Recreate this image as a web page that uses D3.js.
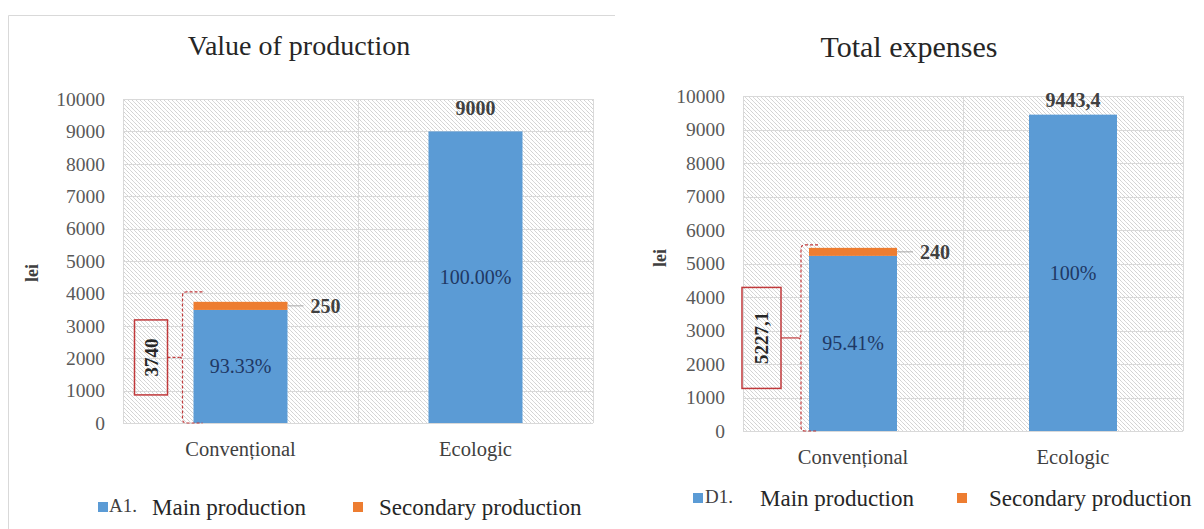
<!DOCTYPE html>
<html>
<head>
<meta charset="utf-8">
<script src="https://cdn.jsdelivr.net/npm/d3@7"></script>
<style>
  body { margin: 0; background: #fff; }
  svg { display: block; }
  svg text { font-family: "Liberation Serif", "Times New Roman", serif !important; }
</style>
</head>
<body>
<svg id="chart" width="1204" height="529"></svg>
<script>
// data
const categories = ["Convențional", "Ecologic"];

const productionMain = [3490, 9000];
const productionSecondary = [250, 0];
const productionPercent = ["93.33%", "100.00%"];
const productionTotal = ["3740", "9000"];

const expensesMain = [5227.1, 9443.4];
const expensesSecondary = [240, 0];
const expensesPercent = ["95.41%", "100%"];
const expensesTotal = ["5227,1", "9443,4"];

const yTicks = [0, 1000, 2000, 3000, 4000, 5000, 6000, 7000, 8000, 9000, 10000];
const seriesNames = ["Main production", "Secondary production"];

const blue = "#5b9bd5";
const orange = "#ed7d31";
const red = "#c0393b";
const serif = '"Liberation Serif", "Times New Roman", serif';

const svg = d3.select("#chart");

// diagonal hatch behind the plot
svg
  .append("defs")
  .append("pattern")
  .attr("id", "hatch")
  .attr("patternUnits", "userSpaceOnUse")
  .attr("width", 4)
  .attr("height", 4)
  .append("path")
  .attr("d", "M-1,-1 L1,1 M0,0 L4,4 M3,3 L5,5")
  .attr("stroke", "#cfcfcf")
  .attr("stroke-width", 0.8);

// frame round the left chart
svg
  .append("path")
  .attr("d", "M8.5,529 V15.5 H615")
  .attr("fill", "none")
  .attr("stroke", "#d9d9d9");

const charts = [
  {
    title: "Value of production",
    titleX: 299, titleY: 55, titleSize: 28,
    left: 123, right: 593, top: 99, bottom: 423,
    main: productionMain, secondary: productionSecondary,
    percent: productionPercent, total: productionTotal,
    leiX: 32, leiY: 273,
    catPad: 18,
    topLabelGap: 16,
    box: { w: 33, h: 75, gap: 15, dashedLink: true },
    bracketOffset: 11,
    bracketTopGap: 10,
    legendPrefix: "A1.",
    legendY: 507,
    legendX: [98, 109, 152, 353, 379],
  },
  {
    title: "Total expenses",
    titleX: 909, titleY: 57, titleSize: 30,
    left: 743, right: 1183, top: 96, bottom: 431,
    main: expensesMain, secondary: expensesSecondary,
    percent: expensesPercent, total: expensesTotal,
    leiX: 660, leiY: 258,
    catPad: 18,
    topLabelGap: 8,
    box: { w: 39, h: 101, gap: 20, dashedLink: false },
    bracketOffset: 8,
    bracketTopGap: 3,
    legendPrefix: "D1.",
    legendY: 498,
    legendX: [693, 705, 760, 957, 989],
  },
];

charts.forEach((c) => {
  const g = svg.append("g").style("font-family", serif);

  const x = d3.scaleBand().domain(categories).range([c.left, c.right]).padding(0);
  const y = d3.scaleLinear().domain([0, 10000]).range([c.bottom, c.top]);
  const barW = x.bandwidth() * 0.4;
  const barX = (d) => x(d) + (x.bandwidth() - barW) / 2;

  // plot area
  g.append("rect")
    .attr("x", c.left)
    .attr("y", c.top)
    .attr("width", c.right - c.left)
    .attr("height", c.bottom - c.top)
    .attr("fill", "url(#hatch)");

  g.append("g")
    .selectAll("line")
    .data(yTicks)
    .enter()
    .append("line")
    .attr("x1", c.left)
    .attr("x2", c.right)
    .attr("y1", (d) => Math.round(y(d)) + 0.5)
    .attr("y2", (d) => Math.round(y(d)) + 0.5)
    .attr("stroke", "#d9d9d9");

  g.append("g")
    .selectAll("line")
    .data(categories.concat([null]))
    .enter()
    .append("line")
    .attr("x1", (d) => Math.round(d === null ? c.right : x(d)) + 0.5)
    .attr("x2", (d) => Math.round(d === null ? c.right : x(d)) + 0.5)
    .attr("y1", c.top)
    .attr("y2", c.bottom)
    .attr("stroke", "#d9d9d9");

  // axes
  const yAxis = d3
    .axisLeft(y)
    .tickValues(yTicks)
    .tickFormat(d3.format("d"))
    .tickSize(0)
    .tickPadding(18);
  g.append("g")
    .attr("transform", `translate(${c.left},0)`)
    .call(yAxis)
    .attr("font-family", serif)
    .call((a) => a.select(".domain").remove())
    .selectAll("text")
    .style("font-family", serif)
    .attr("font-size", 19.5)
    .attr("fill", "#595959");

  const xAxis = d3.axisBottom(x).tickSize(0).tickPadding(c.catPad);
  g.append("g")
    .attr("transform", `translate(0,${c.bottom})`)
    .call(xAxis)
    .attr("font-family", serif)
    .call((a) => a.select(".domain").remove())
    .selectAll("text")
    .style("font-family", serif)
    .attr("font-size", 20.5)
    .attr("fill", "#404040");

  // stacked bars
  g.append("g")
    .selectAll("rect")
    .data(categories)
    .enter()
    .append("rect")
    .attr("x", barX)
    .attr("width", barW)
    .attr("y", (d, i) => y(c.main[i]))
    .attr("height", (d, i) => y(0) - y(c.main[i]))
    .attr("fill", blue);

  g.append("g")
    .selectAll("rect")
    .data(categories)
    .enter()
    .append("rect")
    .attr("x", barX)
    .attr("width", barW)
    .attr("y", (d, i) => y(c.main[i] + c.secondary[i]))
    .attr("height", (d, i) => y(c.main[i]) - y(c.main[i] + c.secondary[i]))
    .attr("fill", orange);

  // percent labels in the blue part
  g.append("g")
    .selectAll("text")
    .data(categories)
    .enter()
    .append("text")
    .attr("x", (d) => x(d) + x.bandwidth() / 2)
    .attr("y", (d, i) => (y(0) + y(c.main[i])) / 2)
    .attr("dy", "0.35em")
    .attr("text-anchor", "middle")
    .attr("font-size", 20)
    .attr("fill", "#1f3864")
    .text((d, i) => c.percent[i]);

  // total above the second bar
  const last = categories.length - 1;
  g.append("text")
    .attr("x", x(categories[last]) + x.bandwidth() / 2)
    .attr("y", y(c.main[last] + c.secondary[last]) - c.topLabelGap)
    .attr("text-anchor", "middle")
    .attr("font-size", 20)
    .attr("font-weight", "bold")
    .attr("fill", "#404040")
    .text(c.total[last]);

  // secondary value with leader line
  const secMid = y(c.main[0] + c.secondary[0] / 2);
  const barRight = barX(categories[0]) + barW;
  g.append("line")
    .attr("x1", barRight)
    .attr("x2", barRight + 16)
    .attr("y1", secMid)
    .attr("y2", secMid)
    .attr("stroke", "#a6a6a6");
  g.append("text")
    .attr("x", barRight + 23)
    .attr("y", secMid)
    .attr("dy", "0.35em")
    .attr("font-size", 20)
    .attr("font-weight", "bold")
    .attr("fill", "#404040")
    .text(c.secondary[0]);

  // bracket and box with the first total
  const bx = barX(categories[0]) - c.bracketOffset;
  const bTop = y(c.main[0] + c.secondary[0]) - c.bracketTopGap;
  const bBot = y(0);
  const bMid = (bTop + bBot) / 2;
  const tickEnd = barX(categories[0]) + 9;
  g.append("path")
    .attr(
      "d",
      `M${tickEnd},${bTop} H${bx + 4} Q${bx},${bTop} ${bx},${bTop + 4}` +
        ` V${bMid - 4} Q${bx},${bMid} ${bx - 3},${bMid} Q${bx},${bMid} ${bx},${bMid + 4}` +
        ` V${bBot - 4} Q${bx},${bBot} ${bx + 4},${bBot} H${tickEnd}`
    )
    .attr("fill", "none")
    .attr("stroke", red)
    .attr("stroke-width", 1.2)
    .attr("stroke-dasharray", "3,2");

  const boxRight = bx - c.box.gap;
  g.append("line")
    .attr("x1", boxRight)
    .attr("x2", bx - 3)
    .attr("y1", bMid)
    .attr("y2", bMid)
    .attr("stroke", red)
    .attr("stroke-width", 1.2)
    .attr("stroke-dasharray", c.box.dashedLink ? "3,2" : null);

  g.append("rect")
    .attr("x", boxRight - c.box.w)
    .attr("y", bMid - c.box.h / 2)
    .attr("width", c.box.w)
    .attr("height", c.box.h)
    .attr("fill", "none")
    .attr("stroke", red)
    .attr("stroke-width", 1.5);

  g.append("text")
    .attr("transform", `translate(${boxRight - c.box.w / 2},${bMid}) rotate(-90)`)
    .attr("dy", "0.35em")
    .attr("text-anchor", "middle")
    .attr("font-size", 19)
    .attr("font-weight", "bold")
    .attr("fill", "#262626")
    .text(c.total[0]);

  // title and y label
  g.append("text")
    .attr("x", c.titleX)
    .attr("y", c.titleY)
    .attr("text-anchor", "middle")
    .attr("font-size", c.titleSize)
    .attr("fill", "#262626")
    .text(c.title);

  g.append("text")
    .attr("transform", `translate(${c.leiX},${c.leiY}) rotate(-90)`)
    .attr("dy", "0.35em")
    .attr("text-anchor", "middle")
    .attr("font-size", 18)
    .attr("font-weight", "bold")
    .attr("fill", "#404040")
    .text("lei");

  // legend
  const lx = c.legendX;
  g.append("rect")
    .attr("x", lx[0]).attr("y", c.legendY - 5)
    .attr("width", 10).attr("height", 10)
    .attr("fill", blue);
  g.append("text")
    .attr("x", lx[1]).attr("y", c.legendY - 2)
    .attr("dy", "0.35em")
    .attr("font-size", 19)
    .attr("fill", "#404040")
    .text(c.legendPrefix);
  g.append("text")
    .attr("x", lx[2]).attr("y", c.legendY)
    .attr("dy", "0.35em")
    .attr("font-size", 23)
    .attr("fill", "#262626")
    .text(seriesNames[0]);
  g.append("rect")
    .attr("x", lx[3]).attr("y", c.legendY - 5)
    .attr("width", 10).attr("height", 10)
    .attr("fill", orange);
  g.append("text")
    .attr("x", lx[4]).attr("y", c.legendY)
    .attr("dy", "0.35em")
    .attr("font-size", 23)
    .attr("fill", "#262626")
    .text(seriesNames[1]);
});
</script>
</body>
</html>
